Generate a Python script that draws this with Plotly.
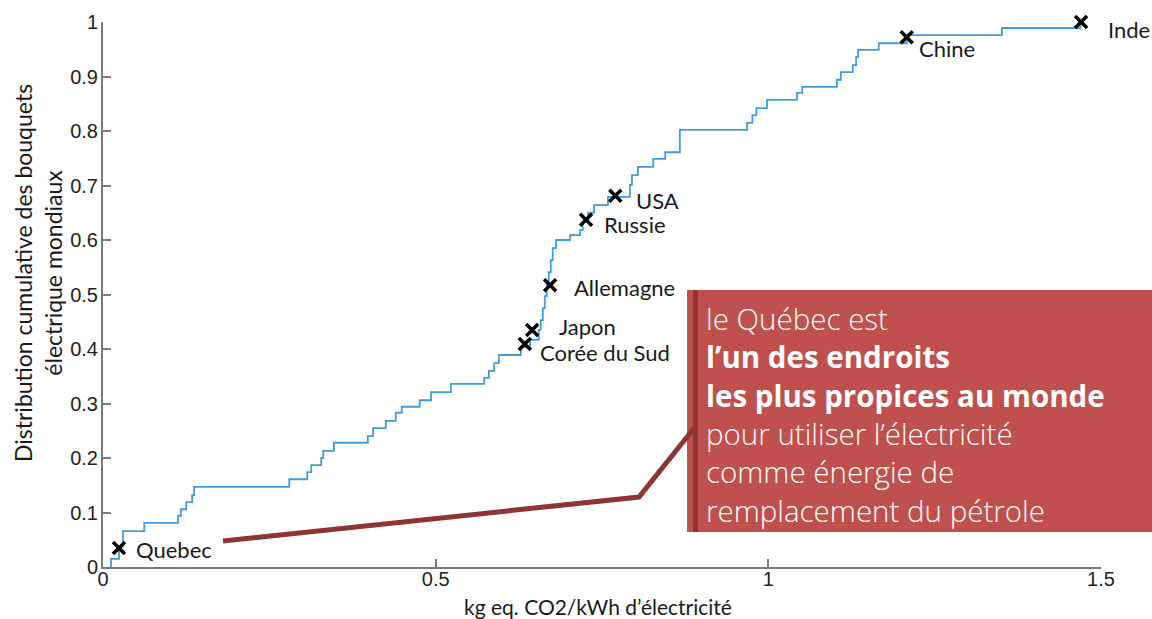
import plotly.graph_objects as go

# CDF step data (kg eq. CO2/kWh, cumulative share)
cdf_x = [0.0105, 0.012, 0.024, 0.030, 0.062, 0.113, 0.117, 0.125, 0.134, 0.137,
         0.280, 0.307, 0.313, 0.328, 0.331, 0.347, 0.398, 0.406, 0.425, 0.440,
         0.449, 0.476, 0.493, 0.523, 0.573, 0.580, 0.588, 0.595, 0.628, 0.642,
         0.655, 0.658, 0.661, 0.664, 0.667, 0.670, 0.673, 0.676, 0.681, 0.702,
         0.717, 0.721, 0.729, 0.738, 0.759, 0.792, 0.795, 0.804, 0.827, 0.845,
         0.867, 0.968, 0.976, 0.982, 0.998, 1.043, 1.051, 1.103, 1.109, 1.127,
         1.132, 1.135, 1.166, 1.208, 1.351, 1.469]
cdf_y = [0.0, 0.015, 0.037, 0.066, 0.081, 0.094, 0.106, 0.119, 0.132, 0.147,
         0.161, 0.174, 0.187, 0.200, 0.213, 0.228, 0.240, 0.255, 0.268, 0.283,
         0.294, 0.306, 0.321, 0.336, 0.347, 0.360, 0.374, 0.389, 0.404, 0.417,
         0.435, 0.453, 0.475, 0.497, 0.519, 0.541, 0.563, 0.585, 0.600, 0.609,
         0.618, 0.633, 0.650, 0.664, 0.679, 0.701, 0.719, 0.734, 0.749, 0.761,
         0.802, 0.815, 0.829, 0.842, 0.857, 0.870, 0.881, 0.894, 0.908, 0.921,
         0.936, 0.949, 0.961, 0.976, 0.989, 1.0]

countries = ["Quebec", "Corée du Sud", "Japon", "Allemagne", "Russie", "USA", "Chine", "Inde"]
country_x = [0.024, 0.634, 0.645, 0.672, 0.726, 0.770, 1.208, 1.470]
country_y = [0.035, 0.409, 0.435, 0.517, 0.637, 0.681, 0.972, 1.0]
label_x = [0.0465, 0.654, 0.682, 0.705, 0.750, 0.798, 1.224, 1.508]
label_y = [0.033, 0.393, 0.442, 0.512, 0.628, 0.673, 0.952, 0.987]

x_ticks = [0, 0.5, 1, 1.5]
x_ticklabels = ["0", "0.5", "1", "1.5"]
y_ticks = [0, 0.1, 0.2, 0.3, 0.4, 0.5, 0.6, 0.7, 0.8, 0.9, 1]
y_ticklabels = ["0", "0.1", "0.2", "0.3", "0.4", "0.5", "0.6", "0.7", "0.8", "0.9", "1"]

box_lines = ["le Québec est", "<b>l’un des endroits</b>", "<b>les plus propices au monde</b>",
             "pour utiliser l’électricité", "comme énergie de", "remplacement du pétrole"]

W, H = 1152, 619
L, R, T, B = 103, 51, 22, 52
pw, ph = W - L - R, H - T - B
X_MAX = 1.5


def px(xp):
    return (xp - L) / pw


def py(yp):
    return (H - B - yp) / ph


fig = go.Figure()
fig.add_trace(go.Scatter(x=cdf_x, y=cdf_y, mode="lines", line=dict(shape="hv", color="#3f9ce0", width=1.8),
                         hoverinfo="skip", showlegend=False))
fig.add_trace(go.Scatter(x=country_x, y=country_y, mode="markers", cliponaxis=False,
                         marker=dict(symbol="x-thin", size=12, line=dict(width=3.5, color="black")),
                         showlegend=False))

for t, lx, ly in zip(countries, label_x, label_y):
    fig.add_annotation(xref="paper", yref="paper", x=lx / X_MAX, y=ly, text=t, showarrow=False,
                       xanchor="left", yanchor="middle",
                       font=dict(family="Lato", size=22, color="#1a1a1a"))

# callout box
fig.add_shape(type="rect", xref="paper", yref="paper", x0=px(687), x1=px(1152), y0=py(532), y1=py(290),
              fillcolor="#c0504d", line=dict(width=0), layer="above")
fig.add_shape(type="rect", xref="paper", yref="paper", x0=px(693), x1=px(698), y0=py(532), y1=py(290),
              fillcolor="#8e3432", line=dict(width=0), layer="above")
fig.add_shape(type="path", xref="paper", yref="paper",
              path=f"M {px(223)} {py(541)} L {px(639)} {py(497)} L {px(695)} {py(427)}",
              line=dict(color="#8e3432", width=5), layer="above")

fig.add_annotation(xref="paper", yref="paper", x=px(704), y=py(414), text="<br>".join(box_lines),
                   showarrow=False, xanchor="left", yanchor="middle", align="left",
                   font=dict(family="Open Sans", size=29.5, color="white", weight=300))

# axis titles
fig.add_annotation(xref="paper", yref="paper", x=px(598), y=py(606), text="kg eq. CO2/kWh d’électricité",
                   showarrow=False, xanchor="center", yanchor="middle",
                   font=dict(family="Lato", size=21, color="#1a1a1a"))
fig.add_annotation(xref="paper", yref="paper", x=px(38), y=py(273),
                   text="Distribution cumulative des bouquets<br>électrique mondiaux",
                   textangle=-90, showarrow=False, xanchor="center", yanchor="middle",
                   font=dict(family="Lato", size=23, color="#1a1a1a"))

axis_common = dict(showgrid=False, zeroline=False, showline=True, linecolor="#7a7a7a", linewidth=2,
                   ticks="inside", ticklen=8, tickwidth=2, tickcolor="#7a7a7a",
                   tickfont=dict(family="Liberation Sans", size=20, color="#222222"), fixedrange=True)
fig.update_xaxes(range=[0, X_MAX], tickvals=x_ticks, ticktext=x_ticklabels, ticklabelstandoff=-7, **axis_common)
fig.update_yaxes(range=[0, 1], tickvals=y_ticks, ticktext=y_ticklabels, ticklabelstandoff=-1, **axis_common)

fig.update_layout(width=W, height=H, margin=dict(l=L, r=R, t=T, b=B),
                  plot_bgcolor="white", paper_bgcolor="white", showlegend=False)
fig.write_html("out.html", config={"displayModeBar": False},
               post_script="document.body.style.margin='0';")
